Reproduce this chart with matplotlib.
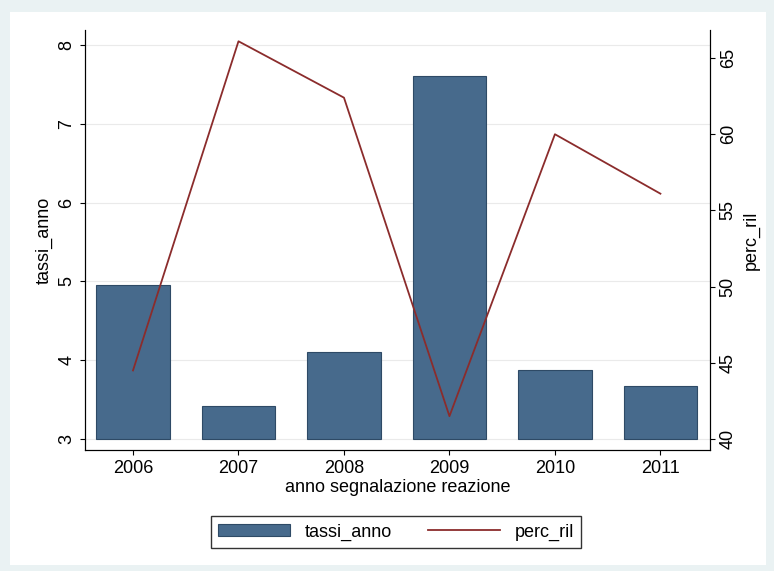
import matplotlib
matplotlib.use("Agg")
import matplotlib.pyplot as plt
plt.rcParams['font.family'] = ['Liberation Sans', 'DejaVu Sans']

years = [2006, 2007, 2008, 2009, 2010, 2011]
tassi_anno = [4.95, 3.42, 4.10, 7.60, 3.88, 3.67]
perc_ril = [44.5, 66.1, 62.4, 41.5, 60.0, 56.1]

W, H = 774, 571
fig = plt.figure(figsize=(W/100, H/100), dpi=100, facecolor='#EAF2F3')
bg = fig.add_axes([10/W, 6/H, 756/W, 553/H], zorder=-5)
bg.set_facecolor('white')
bg.set_xticks([]); bg.set_yticks([])
for s in bg.spines.values():
    s.set_visible(False)

ax = fig.add_axes([85/W, 1-450/H, 625/W, 420/H], zorder=1)
ax.set_facecolor('white')
bars = ax.bar(years, [t-3 for t in tassi_anno], bottom=3, width=0.7,
              color='#476A8C', edgecolor='#2E4A66', linewidth=0.8, zorder=2, label='tassi_anno')
ax.set_xlim(2005.545, 2011.47)
ax.set_ylim(2.86, 8.19)
ax.set_yticks([3,4,5,6,7,8])
ax.set_yticklabels(['3','4','5','6','7','8'], rotation=90, va='center')
ax.set_xticks(years)
ax.grid(axis='y', color='#EAEAEA', linewidth=0.8, zorder=0)
ax.set_axisbelow(True)
ax.set_ylabel('tassi_anno', fontsize=13)
ax.set_xlabel('anno segnalazione reazione', fontsize=13, labelpad=2)
ax.tick_params(labelsize=13)
ax.spines['top'].set_visible(False)

ax2 = ax.twinx()
line, = ax2.plot(years, perc_ril, color='#8B2C2C', linewidth=1.3, label='perc_ril')
ax2.set_ylim(39.28, 66.84)
ax2.set_yticks([40,45,50,55,60,65])
ax2.set_yticklabels(['40','45','50','55','60','65'], rotation=90, va='center')
ax2.set_ylabel('perc_ril', fontsize=13)
ax2.tick_params(labelsize=13)
ax2.spines['top'].set_visible(False)

fig.legend([bars, line], ['tassi_anno', 'perc_ril'], loc='center',
           bbox_to_anchor=(396/W, 1-532/H), ncol=2, fontsize=13, frameon=True,
           fancybox=False, edgecolor='black', handlelength=4.0, columnspacing=2.0)
fig.savefig('out.png', dpi=100, facecolor=fig.get_facecolor())
